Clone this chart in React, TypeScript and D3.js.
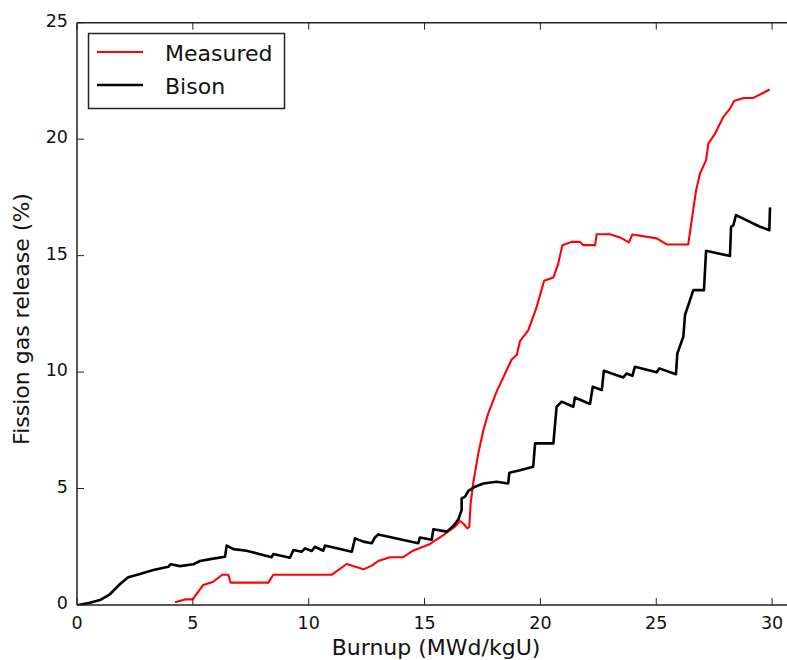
import React, { useEffect, useRef } from "react";
import * as d3 from "d3";

// values
const measuredBurnup = [4.23, 4.66, 4.99, 5.45, 5.88, 6.27, 6.53, 6.63, 8.26, 8.47, 11.0, 11.64, 12.36, 12.72, 13.0, 13.5, 14.08, 14.5, 15.24, 15.81, 16.31, 16.53, 16.67, 16.85, 16.93, 16.99, 17.1, 17.32, 17.54, 17.75, 18.11, 18.76, 18.98, 19.12, 19.48, 19.84, 20.16, 20.56, 20.77, 20.95, 21.35, 21.71, 21.85, 22.36, 22.43, 23.0, 23.44, 23.82, 23.97, 25.02, 25.45, 26.38, 26.72, 26.89, 27.15, 27.25, 27.54, 27.9, 28.18, 28.36, 28.76, 29.19, 29.9];
const measuredFgr = [0.12, 0.24, 0.24, 0.86, 1.0, 1.3, 1.3, 0.96, 0.96, 1.3, 1.3, 1.76, 1.53, 1.69, 1.89, 2.05, 2.05, 2.33, 2.62, 3.0, 3.36, 3.6, 3.5, 3.29, 3.36, 4.36, 5.22, 6.51, 7.51, 8.23, 9.16, 10.54, 10.73, 11.33, 11.8, 12.8, 13.92, 14.06, 14.66, 15.45, 15.59, 15.59, 15.45, 15.45, 15.92, 15.92, 15.78, 15.57, 15.91, 15.74, 15.48, 15.48, 17.81, 18.53, 19.1, 19.82, 20.24, 20.96, 21.31, 21.64, 21.77, 21.77, 22.13];

const bisonBurnup = [0.06, 0.56, 0.99, 1.42, 1.86, 2.21, 2.72, 3.29, 3.94, 4.04, 4.45, 5.02, 5.31, 5.88, 6.39, 6.46, 6.75, 7.32, 8.4, 8.47, 9.19, 9.34, 9.7, 9.84, 10.13, 10.27, 10.63, 10.7, 11.86, 12.0, 12.36, 12.72, 12.86, 13.0, 14.73, 14.8, 15.31, 15.38, 15.96, 16.24, 16.46, 16.6, 16.6, 16.75, 16.89, 17.18, 17.54, 18.11, 18.61, 18.66, 19.12, 19.69, 19.77, 20.56, 20.63, 20.7, 20.92, 21.42, 21.49, 22.14, 22.26, 22.65, 22.74, 23.58, 23.72, 23.97, 24.08, 25.02, 25.13, 25.85, 25.91, 26.17, 26.24, 26.6, 27.06, 27.15, 28.18, 28.23, 28.33, 28.44, 29.48, 29.88, 29.91];
const bisonFgr = [0, 0.1, 0.21, 0.46, 0.9, 1.19, 1.33, 1.5, 1.64, 1.75, 1.67, 1.75, 1.89, 1.99, 2.07, 2.55, 2.4, 2.33, 2.05, 2.19, 2.03, 2.36, 2.29, 2.43, 2.32, 2.5, 2.33, 2.55, 2.29, 2.86, 2.72, 2.65, 2.9, 3.03, 2.65, 2.9, 2.8, 3.25, 3.15, 3.39, 3.68, 4.08, 4.58, 4.65, 4.9, 5.08, 5.22, 5.29, 5.22, 5.68, 5.79, 5.94, 6.94, 6.94, 7.73, 8.51, 8.73, 8.51, 8.91, 8.63, 9.37, 9.23, 10.06, 9.77, 9.94, 9.84, 10.23, 9.99, 10.16, 9.91, 10.8, 11.52, 12.45, 13.52, 13.52, 15.21, 14.98, 16.24, 16.31, 16.74, 16.24, 16.09, 17.07];

const xTicks = [0, 5, 10, 15, 20, 25, 30];
const yTicks = [0, 5, 10, 15, 20, 25];
const seriesNames = ["Measured", "Bison"];
const seriesColors = ["#ff0000", "#000000"];
const seriesWidths = [2.1, 2.6];

const W = 787, H = 660;
const font = "'DejaVu Sans', sans-serif";

export default function App() {
  const ref = useRef<SVGSVGElement>(null);

  useEffect(() => {
    const svg = d3.select(ref.current);
    svg.selectAll("*").remove();

    const left = 77, top = 22.7, bottom = 605;
    const x = d3.scaleLinear().domain([0, 30]).range([left, 772.1]);
    const y = d3.scaleLinear().domain([0, 25]).range([bottom, top]);
    const right = W + 5;

    svg.append("defs").append("clipPath").attr("id", "plotclip")
      .append("rect").attr("x", left).attr("y", top).attr("width", right - left).attr("height", bottom - top);

    const line = d3.line<[number, number]>().x(d => x(d[0])).y(d => y(d[1]));
    const measured = measuredBurnup.map((b, i) => [b, measuredFgr[i]] as [number, number]);
    const bison = bisonBurnup.map((b, i) => [b, bisonFgr[i]] as [number, number]);

    const plot = svg.append("g").attr("clip-path", "url(#plotclip)");
    [measured, bison].forEach((data, i) => {
      plot.append("path").datum(data).attr("d", line)
        .attr("fill", "none").attr("stroke", seriesColors[i]).attr("stroke-width", seriesWidths[i])
        .attr("stroke-linejoin", "round");
    });

    // frame
    const frame = svg.append("g").attr("stroke", "#222").attr("stroke-width", 1.5).attr("fill", "none");
    frame.append("line").attr("x1", left).attr("x2", left).attr("y1", top).attr("y2", bottom);
    frame.append("line").attr("x1", left).attr("x2", right).attr("y1", top).attr("y2", top);
    frame.append("line").attr("x1", left).attr("x2", right).attr("y1", bottom).attr("y2", bottom);

    // inward ticks
    const tickLen = 7;
    xTicks.forEach(t => {
      frame.append("line").attr("x1", x(t)).attr("x2", x(t)).attr("y1", bottom).attr("y2", bottom - tickLen).attr("stroke-width", 1);
      frame.append("line").attr("x1", x(t)).attr("x2", x(t)).attr("y1", top).attr("y2", top + tickLen).attr("stroke-width", 1);
    });
    yTicks.forEach(t => {
      frame.append("line").attr("x1", left).attr("x2", left + tickLen).attr("y1", y(t)).attr("y2", y(t)).attr("stroke-width", 1);
    });

    svg.append("g").selectAll("text").data(xTicks).join("text")
      .attr("x", d => x(d)).attr("y", 629)
      .attr("text-anchor", "middle").attr("font-family", font).attr("font-size", 17.5).attr("fill", "#111")
      .text(d => d);
    svg.append("g").selectAll("text").data(yTicks).join("text")
      .attr("x", 68).attr("y", d => y(d) + 4)
      .attr("text-anchor", "end").attr("font-family", font).attr("font-size", 17.5).attr("fill", "#111")
      .text(d => d);

    svg.append("text").attr("x", 436).attr("y", 655).attr("text-anchor", "middle")
      .attr("font-family", font).attr("font-size", 22).attr("fill", "#111").text("Burnup (MWd/kgU)");
    svg.append("text").attr("transform", "translate(29,319) rotate(-90)").attr("text-anchor", "middle")
      .attr("font-family", font).attr("font-size", 22).attr("fill", "#111").text("Fission gas release (%)");

    // legend
    const lg = svg.append("g");
    lg.append("rect").attr("x", 88.5).attr("y", 33.5).attr("width", 196).attr("height", 75)
      .attr("fill", "#fff").attr("stroke", "#222").attr("stroke-width", 1.5);
    seriesNames.forEach((name, i) => {
      const ly = 52 + i * 33;
      lg.append("line").attr("x1", 97).attr("x2", 143).attr("y1", ly).attr("y2", ly)
        .attr("stroke", seriesColors[i]).attr("stroke-width", seriesWidths[i]);
      lg.append("text").attr("x", 165).attr("y", ly + 8.5).attr("font-family", font).attr("font-size", 22)
        .attr("fill", "#111").text(name);
    });
  }, []);

  return (
    <svg ref={ref} width={W} height={H}
      style={{ position: "absolute", left: 0, top: 0, background: "#fff" }} />
  );
}
